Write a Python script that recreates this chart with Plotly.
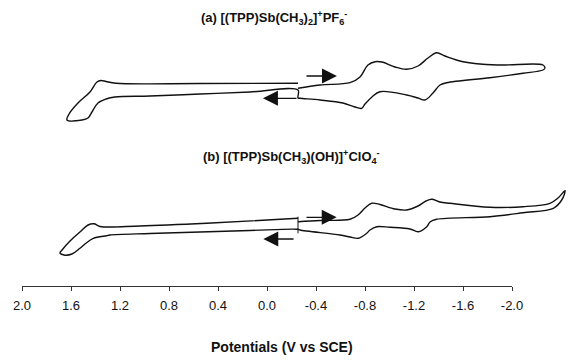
import plotly.graph_objects as go

# ---------------- data ----------------
# Cyclic voltammograms, potential (V vs SCE) and current (arbitrary units, traces offset for clarity)
E_a = [-0.253, -0.433, -0.678, -0.759, -0.824, -0.882, -0.939, -1.045, -1.140, -1.233, -1.314, -1.385,
       -1.453, -1.600, -1.878, -2.253, -2.269, -2.253, -2.090, -1.820, -1.467, -1.412, -1.355, -1.290,
       -1.233, -1.140, -0.922, -0.857, -0.800, -0.773, -0.718, -0.620, -0.433, -0.269, -0.253, -0.253,
       0.139, 0.547, 0.955, 1.241, 1.314, 1.380, 1.429, 1.461, 1.510, 1.633, 1.616, 1.543, 1.445,
       1.388, 1.355, 1.314, 1.233, 0.547, -0.253]
I_a = [197.7, 201, 203.3, 209, 221, 224.3, 224, 219, 216.7, 220, 228, 233.3,
       230, 224.3, 221, 221, 218, 216, 212.7, 208.3, 203.3, 201, 193, 186,
       188, 191, 194.3, 189, 182, 177.7, 179, 183, 186, 187.7, 188, 196,
       194, 192, 190, 189, 187, 183, 174, 168, 166, 166, 172, 183, 194,
       204, 205.5, 204.5, 202.7, 202.5, 202.7]

E_b = [-0.253, -0.433, -0.678, -0.743, -0.800, -0.855, -0.922, -1.045, -1.140, -1.233, -1.298, -1.345,
       -1.412, -1.494, -1.820, -2.090, -2.310, -2.376, -2.433, -2.406, -2.337, -2.090, -1.820, -1.385,
       -1.331, -1.304, -1.235, -1.167, -1.004, -0.896, -0.841, -0.814, -0.745, -0.678, -0.596, -0.269,
       -0.253, 0.139, 0.547, 0.955, 1.282, 1.309, 1.418, 1.486, 1.527, 1.592, 1.657, 1.690, 1.673,
       1.608, 1.527, 1.461, 1.412, 1.363, 1.037, 0.492, -0.253]
I_b = [64.3, 65.5, 66.7, 71, 78, 82.7, 81.5, 77, 76, 80, 85, 86.7,
       84, 82.7, 78.7, 79.3, 82.7, 88, 95.3, 86, 77.7, 73.3, 69.3, 66.7,
       64, 59.3, 54.3, 57, 58.7, 59.3, 56, 52.7, 47.7, 49, 51, 56,
       56.7, 55.5, 54, 52.5, 51, 50.3, 47.7, 42, 37.7, 32, 31, 33, 36,
       45, 54, 61, 62.2, 59.5, 60, 62.7, 67.7]

# start-potential marks (vertical bars at the start potential)
E_start_mark = [-0.253, -0.253]
I_start_mark_b = [69.3, 52.7]

# scan-direction arrows: (tail E, head E, current)
arrows_a = [(-0.310, -0.571, 210.0), (-0.253, 0.033, 187.7)]
arrows_b = [(-0.310, -0.569, 68.7), (-0.229, 0.030, 47.0)]

label_a = "<b>(a) [(TPP)Sb(CH<sub>3</sub>)<sub>2</sub>]<sup>+</sup>PF<sub>6</sub><sup>-</sup></b>"
label_b = "<b>(b) [(TPP)Sb(CH<sub>3</sub>)(OH)]<sup>+</sup>ClO<sub>4</sub><sup>-</sup></b>"
x_title = "<b>Potentials (V vs SCE)</b>"

tick_vals = [2.0, 1.6, 1.2, 0.8, 0.4, 0.0, -0.4, -0.8, -1.2, -1.6, -2.0]
tick_text = ["2.0", "1.6", "1.2", "0.8", "0.4", "0.0", "-0.4", "-0.8", "-1.2", "-1.6", "-2.0"]

# ---------------- layout geometry ----------------
# The page body has an 8px margin, so the figure is 8px smaller and everything is placed 8px up/left.
PAGE_OFF = 8
W, H = 584 - PAGE_OFF, 362 - PAGE_OFF
AX_L, AX_R = 22 - PAGE_OFF, 512 - PAGE_OFF    # pixel extent of the drawn potential axis
AX_Y = 286 - PAGE_OFF                          # pixel row of the axis line
px_per_V = (AX_R - AX_L) / (tick_vals[0] - tick_vals[-1])
x2_range = [tick_vals[0] + AX_L / px_per_V, tick_vals[-1] - (W - AX_R) / px_per_V]


def px(x):
    return (x - PAGE_OFF) / W


def py(y):
    return 1 - (y - PAGE_OFF) / H


FONT = "Arial, Liberation Sans, Helvetica, sans-serif"
LINE = dict(color="#111111", width=1.4)

fig = go.Figure()
fig.add_trace(go.Scatter(x=[], y=[], xaxis="x", yaxis="y", showlegend=False, hoverinfo="skip"))
fig.add_trace(go.Scatter(x=E_a, y=I_a, mode="lines", line=LINE, xaxis="x2", yaxis="y",
                         showlegend=False, line_shape="spline"))
fig.add_trace(go.Scatter(x=E_b, y=I_b, mode="lines", line=LINE, xaxis="x2", yaxis="y",
                         showlegend=False, line_shape="spline"))
fig.add_trace(go.Scatter(x=E_start_mark, y=I_start_mark_b, mode="lines", line=dict(color="#111111", width=1),
                         xaxis="x2", yaxis="y", showlegend=False))

annotations = []
for tail, head, cur in arrows_a + arrows_b:
    annotations.append(dict(x=head, y=cur, ax=tail, ay=cur, xref="x2", yref="y", axref="x2", ayref="y",
                            text="", showarrow=True, arrowhead=2, arrowsize=2.3, arrowwidth=1.3,
                            arrowcolor="#111111", standoff=0, startstandoff=0))

annotations.append(dict(x=px(274), y=py(18), xref="paper", yref="paper", text=label_a, showarrow=False,
                        font=dict(family=FONT, size=13, color="#111111"), xanchor="center", yanchor="middle"))
annotations.append(dict(x=px(291), y=py(157), xref="paper", yref="paper", text=label_b, showarrow=False,
                        font=dict(family=FONT, size=13, color="#111111"), xanchor="center", yanchor="middle"))
annotations.append(dict(x=px(282), y=py(347), xref="paper", yref="paper", text=x_title, showarrow=False,
                        font=dict(family=FONT, size=14, color="#111111"), xanchor="center", yanchor="middle"))

fig.update_layout(
    width=W, height=H,
    margin=dict(l=0, r=0, t=0, b=0, autoexpand=False),
    paper_bgcolor="white", plot_bgcolor="white",
    showlegend=False,
    xaxis=dict(domain=[AX_L / W, AX_R / W], range=[tick_vals[0], tick_vals[-1]], anchor="y",
               automargin=False,
               tickmode="array", tickvals=tick_vals, ticktext=tick_text,
               showgrid=False, zeroline=False, showline=True, linecolor="#333333", linewidth=1,
               ticks="outside", ticklen=4, tickcolor="#333333", tickwidth=1,
               tickfont=dict(family=FONT, size=13, color="#111111"), ticklabelstandoff=3),
    xaxis2=dict(domain=[0, 1], range=x2_range, anchor="y", visible=False, showgrid=False, zeroline=False,
                automargin=False),
    yaxis=dict(domain=[1 - AX_Y / H, 1], range=[0, AX_Y], visible=False, showgrid=False, zeroline=False,
               automargin=False),
    annotations=annotations,
)

fig.write_html("out.html")
